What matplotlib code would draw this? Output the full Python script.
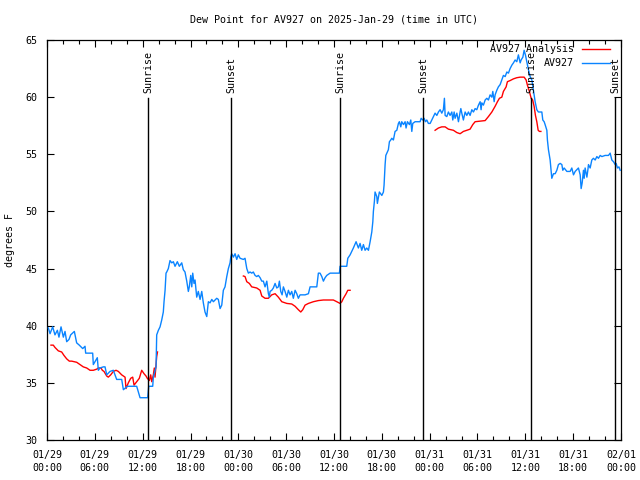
"""Dew point for AV927, observations vs analysis, 2025-Jan-29 (UTC)."""

import matplotlib
matplotlib.use('Agg')
import matplotlib.pyplot as plt
from matplotlib.ticker import MultipleLocator

TITLE = 'Dew Point for AV927 on 2025-Jan-29 (time in UTC)'
NAN = float('nan')

# hours since 01/29 00:00 UTC, dew point in degrees F
obs_hours = [
    0.17, 0.38, 0.71, 1.0, 1.3, 1.5, 1.76, 2.05, 2.26, 2.47, 2.76, 2.97, 3.43, 3.72,
    4.05, 4.48, 4.77, 4.85, 5.4, 5.73, 5.81, 6.15, 6.31, 6.44, 6.65, 7.07, 7.28, 7.49,
    7.9, 8.32, 8.74, 9.37, 9.58, 9.91, 10.08, 11.25, 11.67, 12.63, 12.76, 13.26, 13.34,
    13.68, 13.76, 13.97, 14.18, 14.39, 14.59, 14.68, 14.81, 14.93, 15.02, 15.22, 15.43,
    15.65, 15.85, 16.06, 16.35, 16.6, 16.9, 17.1, 17.31, 17.53, 17.73, 17.85, 18.03,
    18.16, 18.28, 18.44, 18.57, 18.78, 18.98, 19.2, 19.41, 19.61, 19.82, 20.04, 20.24,
    20.45, 20.67, 20.87, 21.29, 21.49, 21.71, 21.92, 22.12, 22.33, 22.55, 22.75, 22.96,
    23.05, 23.17, 23.38, 23.59, 23.8, 24.0, 24.22,
    24.63, 24.84, 25.06, 25.26, 25.47, 25.68, 25.88, 26.1, 26.31, 26.51, 26.73, 26.94,
    27.14, 27.35, 27.57, 27.77, 27.89, 27.98, 28.19, 28.39, 28.61, 28.82, 29.02, 29.15,
    29.32, 29.49, 29.65, 29.86, 30.08, 30.28, 30.49, 30.7, 30.9, 31.12, 31.33, 31.53,
    31.74, 32.37, 32.79, 33.0, 33.84, 34.04, 34.25, 34.47, 34.67, 34.88, 35.09, 35.51,
    36.68, 36.76, 37.6, 37.73, 38.02, 38.43, 38.77, 39.06, 39.27, 39.48, 39.69, 39.9,
    40.11, 40.32, 40.53, 40.74, 40.87, 40.94, 41.07, 41.15, 41.37, 41.44, 41.69, 42.0,
    42.2, 42.28, 42.41, 42.5, 42.82, 42.95, 43.12, 43.25, 43.45, 43.66, 43.88, 44.08,
    44.2, 44.38, 44.5, 44.71, 44.92, 45.04, 45.21, 45.46, 45.63, 45.76, 45.88, 46.17,
    46.8, 46.93, 47.14, 47.3, 47.47, 47.64, 47.84, 48.06,
    48.27, 48.47, 48.68, 48.9, 49.1, 49.31, 49.52, 49.72, 49.85, 49.94, 50.15, 50.35,
    50.56, 50.78, 50.9, 51.07, 51.19, 51.41, 51.61, 51.82, 51.91, 52.03, 52.23, 52.45,
    52.66, 52.86, 53.07, 53.29, 53.49, 53.7, 53.91, 54.12, 54.33, 54.45, 54.54, 54.74,
    54.96, 55.17, 55.37, 55.58, 55.8, 55.92, 56.09, 56.21, 56.42, 56.62, 56.84, 57.05,
    57.25, 57.47, 57.68, 57.88, 58.09, 58.31, 58.51, 58.72, 58.93, 59.13, 59.35, 59.47,
    59.69, 59.85, 60.01, 60.19, 60.39, 60.6, 60.82, 61.02, 61.23, 61.44, 61.64, 62.07,
    62.19, 62.36, 62.48, 62.7, 62.77, 62.9, 63.11, 63.32, 63.53, 63.74, 63.95, 64.15,
    64.37, 64.58, 64.7, 64.87, 65.21, 65.62, 65.83, 66.04, 66.25, 66.66, 66.88, 67.0,
    67.13, 67.29, 67.38, 67.5, 67.72, 67.84, 67.92, 68.13, 68.34, 68.54, 68.76, 68.97,
    69.17, 69.39, 69.6, 70.01, 70.43, 70.64, 70.85, 71.06, 71.27, 71.39, 71.56, 71.74,
    71.9,
]
obs_dewpt = [
    39.8, 39.3, 39.9, 39.2, 39.6, 39.0, 39.9, 39.0, 39.5, 38.6, 38.8, 39.2, 39.5, 38.5,
    38.3, 38.0, 38.2, 37.6, 37.6, 37.6, 36.6, 37.0, 37.2, 36.1, 36.3, 36.4, 36.4, 35.7,
    36.0, 36.1, 35.3, 35.3, 34.4, 34.6, 34.7, 34.7, 33.7, 33.7, 34.7, 34.7, 35.5,
    36.4, 39.2, 39.6, 39.9, 40.5, 41.2, 42.1, 43.1, 44.6, 44.7, 45.0, 45.7,
    45.5, 45.6, 45.2, 45.6, 45.2, 45.5, 44.9, 44.7, 43.9, 43.0, 43.4, 44.4,
    43.4, 44.6, 43.7, 44.0, 42.5, 43.0, 42.3, 43.0, 42.0, 41.2, 40.8, 42.1,
    42.0, 42.3, 42.1, 42.4, 42.3, 41.5, 41.8, 43.1, 43.4, 44.3, 45.0, 45.5,
    46.0, 46.3, 46.0, 46.3, 45.8, 46.2, 45.9,
    45.8, 45.9, 45.0, 44.6, 44.7, 44.6, 44.7, 44.4, 44.3, 44.4, 44.2, 43.9,
    43.9, 43.4, 43.9, 42.8, 42.5, 43.0, 43.1, 43.3, 43.7, 43.3, 43.4, 43.9,
    43.0, 42.7, 43.4, 43.0, 42.5, 43.1, 42.7, 43.0, 42.4, 43.1, 42.8, 42.4,
    42.7, 42.7, 42.8, 43.4, 43.4, 44.6, 44.6, 44.3, 43.9, 44.2, 44.4, 44.6,
    44.6, 45.2, 45.2, 45.9, 46.2, 46.8, 47.35, 46.8, 47.2, 46.6, 47.1, 46.6,
    46.8, 46.6, 47.35, 48.2, 49.1, 50.0, 50.9, 51.7, 51.3, 50.7, 51.7, 51.4,
    51.7, 52.3, 54.1, 54.9, 55.4, 56.1, 56.25, 56.4, 56.25, 57.0, 57.1, 57.7,
    57.85, 57.4, 57.85, 57.6, 57.85, 57.3, 57.85, 57.6, 58.0, 57.0, 57.7, 57.85,
    57.85, 58.15, 58.0, 58.15, 57.85, 58.0, 57.7, 57.7,
    58.0, 58.3, 58.6, 58.4, 58.7, 58.9, 58.6, 58.9, 59.9, 58.4, 58.3, 58.7,
    58.4, 58.7, 58.0, 58.7, 58.15, 58.6, 57.85, 58.7, 59.0, 58.6, 58.0, 58.7,
    58.4, 58.7, 58.4, 58.9, 58.7, 59.0, 58.9, 59.3, 59.6, 58.9, 59.5, 59.3,
    59.75, 59.9, 59.75, 60.2, 60.0, 60.5, 59.6, 60.2, 60.6, 60.9, 61.1, 61.5,
    61.9, 61.8, 62.2, 62.1, 62.5, 62.8, 63.0, 63.25, 63.1, 63.7, 63.0, 63.25,
    63.5, 64.1, 63.7, 63.1, 62.4, 61.8, 61.5, 60.6, 59.6, 58.9, 58.7, 58.7,
    58.0, 57.85, 57.6, 57.1, 56.25, 55.4, 54.5, 52.9, 53.3, 53.3, 53.6, 54.1,
    54.2, 54.1, 53.6, 53.8, 53.5, 53.5, 53.8, 53.2, 53.5, 53.8, 53.2, 52.0,
    52.5, 53.6, 52.9, 53.8, 53.0, 53.6, 54.1, 53.8, 54.5, 54.65, 54.5, 54.8,
    54.65, 54.9, 54.8, 54.9, 54.9, 55.1, 54.5, 54.35, 54.1, 54.2, 53.8, 53.9,
    53.6,
]

# analysis series, NaN marks the gaps between the three runs
ana_hours = [
    0.5, 0.79, 1.0, 1.42, 1.84, 2.13, 2.47, 2.8, 3.1, 3.73, 3.93, 4.14, 4.55, 4.98,
    5.4, 5.81, 6.24, 6.44, 6.78, 6.94, 7.15, 7.49, 7.69, 7.99, 8.32, 8.66, 8.95, 9.37,
    9.79, 9.91, 10.2, 10.5, 10.75, 10.92, 11.25, 11.58, 11.88, 12.17, 12.42, 12.58,
    12.84, 13.01, 13.14, 13.34, 13.46, 13.55, 13.76, 13.86,
    NAN,
    24.63, 24.84, 25.06, 25.38, 25.68, 26.31, 26.73, 26.94, 27.35, 27.77, 28.19, 28.61,
    29.02, 29.45, 30.08, 30.7, 31.12, 31.53, 31.83, 32.08, 32.37, 32.79, 33.41, 34.04,
    34.67, 35.92, 36.35, 36.76, 36.98, 37.18, 37.52, 37.73, 38.02,
    NAN,
    48.68, 49.1, 49.52, 49.94, 50.35, 50.98, 51.41, 51.82, 52.23, 52.66, 53.07, 53.41,
    53.7, 54.33, 54.96, 55.37, 55.8, 56.21, 56.5, 56.75, 57.05, 57.25, 57.59, 57.75,
    58.09, 58.51, 58.93, 59.35, 59.85, 60.1, 60.26, 60.51, 60.73, 60.92, 61.1, 61.27,
    61.44, 61.61, 61.77, 61.95,
]
ana_dewpt = [
    38.3, 38.3, 38.1, 37.8, 37.7, 37.4, 37.1, 36.9, 36.9, 36.8, 36.7, 36.6, 36.4, 36.3,
    36.1, 36.1, 36.2, 36.3, 36.3, 36.1, 36.0, 35.6, 35.5, 35.7, 36.0, 36.1, 36.0, 35.7,
    35.5, 34.5, 35.0, 35.4, 35.5, 34.8, 35.1, 35.4, 36.1, 35.8, 35.6, 35.4,
    35.2, 35.7, 35.1, 35.7, 36.3, 35.5, 37.3, 37.7,
    NAN,
    44.35, 44.3, 43.85, 43.7, 43.4, 43.3, 43.1, 42.6, 42.4, 42.4, 42.7, 42.8,
    42.5, 42.1, 41.95, 41.9, 41.7, 41.4, 41.2, 41.4, 41.8, 41.95, 42.1, 42.2,
    42.25, 42.25, 42.1, 41.95, 42.1, 42.4, 42.8, 43.1, 43.1,
    NAN,
    57.1, 57.3, 57.4, 57.4, 57.2, 57.1, 56.9, 56.8, 57.0, 57.1, 57.2, 57.6,
    57.85, 57.9, 57.95, 58.3, 58.7, 59.2, 59.6, 59.9, 60.0, 60.5, 60.9, 61.35,
    61.45, 61.6, 61.7, 61.75, 61.75, 61.5, 61.05, 60.5, 59.9, 59.75, 59.2, 58.4,
    57.85, 57.1, 57.0, 57.0,
]

sunrise_hours = [12.7, 36.75, 60.75]
sunset_hours = [23.1, 47.2, 71.3]

tick_hours = list(range(0, 73, 6))
tick_labels = [
    '01/29\n00:00', '01/29\n06:00', '01/29\n12:00', '01/29\n18:00',
    '01/30\n00:00', '01/30\n06:00', '01/30\n12:00', '01/30\n18:00',
    '01/31\n00:00', '01/31\n06:00', '01/31\n12:00', '01/31\n18:00',
    '02/01\n00:00',
]

RED = '#ff0000'
BLUE = '#0a84ff'
FONT = 7.2

plt.rcParams['font.family'] = ['DejaVu Sans Mono']
plt.rcParams['font.size'] = FONT

fig = plt.figure(figsize=(6.4, 4.8), dpi=100)
ax = fig.add_axes([47 / 640, 40 / 480, 574 / 640, 400 / 480])

ax.plot(ana_hours, ana_dewpt, color=RED, lw=1.0, zorder=2)
ax.plot(obs_hours, obs_dewpt, color=BLUE, lw=1.0, zorder=3)

# sunrise / sunset markers
for label, hours in (('Sunrise', sunrise_hours), ('Sunset', sunset_hours)):
    for h in hours:
        ax.axvline(h, ymin=0, ymax=0.855, color='black', lw=1.0, zorder=4)
        ax.text(h, 0.8675, label, transform=ax.get_xaxis_transform(),
                rotation=90, ha='center', va='bottom', fontsize=FONT)

ax.set_xlim(0, 72)
ax.set_ylim(30, 65)
ax.set_xticks(tick_hours)
ax.set_xticklabels(tick_labels, linespacing=1.45)
ax.xaxis.set_minor_locator(MultipleLocator(2))
ax.yaxis.set_major_locator(MultipleLocator(5))

ax.tick_params(which='both', direction='in', top=True, right=True, width=0.8)
ax.tick_params(which='major', length=5, pad=7)
ax.tick_params(which='minor', length=3)
for spine in ax.spines.values():
    spine.set_linewidth(0.9)

# legend, gnuplot style: right aligned labels with sample lines after them
legend_rows = [('AV927 Analysis', RED, 0.9775), ('AV927', BLUE, 0.9425)]
for text, color, y in legend_rows:
    ax.text(0.918, y, text, transform=ax.transAxes, ha='right', va='center',
            fontsize=FONT)
    ax.plot([0.932, 0.981], [y, y], transform=ax.transAxes, color=color, lw=1.0)

fig.text((47 + 621) / 2 / 640, 1 - 20 / 480, TITLE, ha='center', va='center',
         fontsize=FONT)
fig.text(10 / 640, 0.5, 'degrees F', rotation=90, ha='center', va='center',
         fontsize=FONT)

fig.savefig('out.png', dpi=100)
